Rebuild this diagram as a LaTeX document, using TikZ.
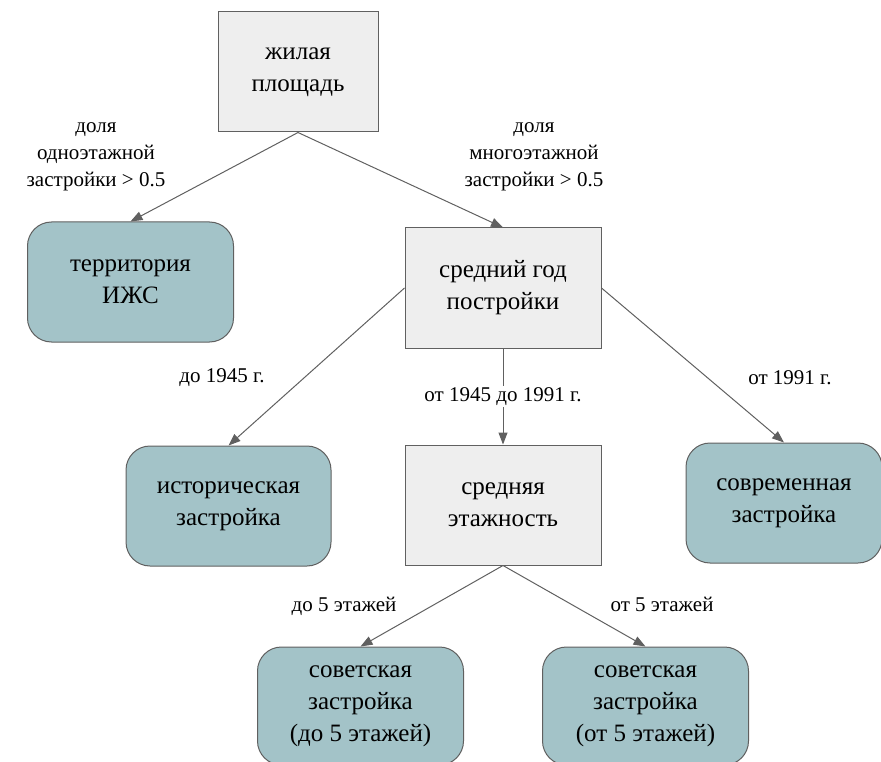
\documentclass[tikz,border=0pt]{standalone}
\usepackage{fontspec}
\setmainfont{LiberationSerif}[Extension=.ttf, UprightFont=*-Regular, BoldFont=*-Bold]
\usepackage{tikz}
\usetikzlibrary{arrows.meta}
\definecolor{boxgrey}{HTML}{EEEEEE}
\definecolor{leafteal}{HTML}{A3C3C8}
\definecolor{linegrey}{HTML}{606060}

\begin{document}
\begin{tikzpicture}[x=1pt, y=-1pt,
   splitnode/.style={rectangle, draw=linegrey, line width=1pt, fill=boxgrey, minimum width=196pt, minimum height=120pt, align=center, font=\fontsize{25}{32}\selectfont},
   leafnode/.style={rectangle, rounded corners=24pt, draw=linegrey, line width=1pt, fill=leafteal, minimum width=206pt, minimum height=120pt, align=center, font=\fontsize{25}{32}\selectfont},
   edgelabel/.style={align=center, font=\fontsize{21}{27}\selectfont},
   edge/.style={draw=linegrey, line width=1pt, -{Triangle[length=12pt,width=9pt]}}]
   \useasboundingbox (0,0) rectangle (881,762);
   	\node[splitnode, minimum width=160pt] at (298,72) (root) {жилая\\площадь};
   	\node[leafnode] at (130.5,282) (izhs) {территория\\ИЖС};
   	\node[splitnode] at (503,288) (year) {средний год\\постройки};
   	\node[leafnode, minimum width=205pt] at (228.5,506) (hist) {историческая\\застройка};
   	\node[splitnode] at (503,505) (floors) {средняя\\этажность};
   	\node[leafnode, minimum width=196pt] at (784,503) (modern) {современная\\застройка};
   	\node[leafnode, minimum height=118pt] at (360.5,706) (sovlow) {советская\\застройка\\(до 5 этажей)};
   	\node[leafnode, minimum height=118pt] at (645.5,706) (sovhigh) {советская\\застройка\\(от 5 этажей)};
        	\foreach \a/\b in {root.south/izhs.north, root.south/year.north, year.west/hist.north, year.east/modern.north, floors.south/sovlow.north, floors.south/sovhigh.north}
            	\draw[edge] (\a) -- (\b);
            	\draw[edge] (year.south) -- (floors.north) node[midway, fill=white, edgelabel, inner sep=2pt] (midlabel) {от 1945 до 1991 г.};
		\node[edgelabel] at (96,157) (lonelabel) {доля\\одноэтажной\\застройки > 0.5};
		\node[edgelabel] at (534,157) (lmultilabel) {доля\\многоэтажной\\застройки > 0.5};
		\node[edgelabel] at (222,378) (earlylabel) {до 1945 г.};
		\node[edgelabel] at (790,378) (latelabel) {от 1991 г.};
		\node[edgelabel] at (344,606) (lowlabel) {до 5 этажей};
		\node[edgelabel] at (662,604) (highlabel) {от 5 этажей};
\end{tikzpicture}
\end{document}
